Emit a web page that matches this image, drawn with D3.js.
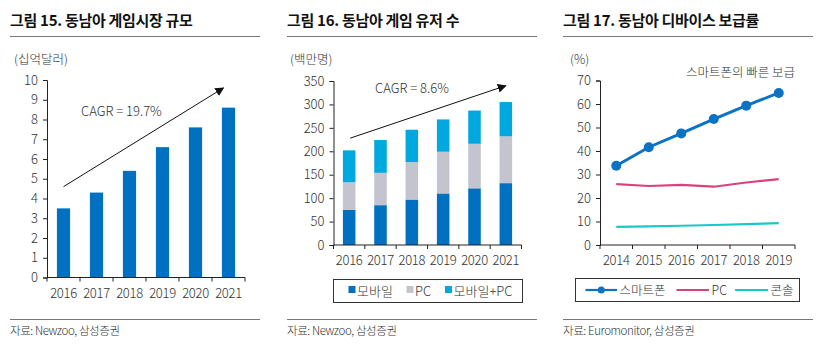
<!DOCTYPE html>
<html>
<head>
<meta charset="utf-8">
<script src="https://cdn.jsdelivr.net/npm/d3@7"></script>
<style>
  html, body { margin: 0; padding: 0; background: #fff; }
  svg text { font-family: "Noto Sans CJK KR", "Noto Sans", sans-serif; fill: #333; font-weight: 300; }
</style>
</head>
<body>
<svg id="c" width="827" height="347"></svg>
<script>
// Figure 15: SEA game market size (USD bn)
const marketYears = ["2016", "2017", "2018", "2019", "2020", "2021"];
const marketValues = [3.5, 4.3, 5.4, 6.6, 7.6, 8.6];
const marketTicks = [0, 1, 2, 3, 4, 5, 6, 7, 8, 9, 10];

// Figure 16: SEA gamers (millions), stacked
const userYears = ["2016", "2017", "2018", "2019", "2020", "2021"];
const userMobile = [75, 85, 97, 110, 121, 132];
const userPC = [59, 69, 80, 89, 95, 100];
const userBoth = [68, 70, 69, 69, 71, 73];
const userSeries = ["모바일", "PC", "모바일+PC"];
const userTicks = [0, 50, 100, 150, 200, 250, 300, 350];

// Figure 17: SEA device penetration (%)
const deviceYears = ["2014", "2015", "2016", "2017", "2018", "2019"];
const smartphone = [33.7, 41.6, 47.5, 53.6, 59.3, 64.7];
const pcRate = [25.9, 25.1, 25.6, 24.8, 26.6, 28.0];
const consoleRate = [7.7, 7.9, 8.2, 8.5, 8.9, 9.3];
const deviceSeries = ["스마트폰", "PC", "콘솔"];
const deviceTicks = [0, 10, 20, 30, 40, 50, 60, 70];

const C_BLUE = "#0070c0", C_GRAY = "#c3c4cd", C_SKY = "#00a8e0";
const C_PINK = "#d8437f", C_TEAL = "#1cc7c9", C_LINE = "#0b72c4";
const AXIS = "#222";

const svg = d3.select("#c");
const defs = svg.append("defs");
defs.append("marker").attr("id", "arr").attr("viewBox", "0 0 10 10")
  .attr("refX", 9).attr("refY", 5).attr("markerWidth", 9).attr("markerHeight", 9)
  .attr("markerUnits", "userSpaceOnUse").attr("orient", "auto")
  .append("path").attr("d", "M0,0 L10,5 L0,10 Z").attr("fill", "#111");

function frame(x0, x1, title, source) {
  svg.append("text").attr("x", x0).attr("y", 26).attr("font-size", 15)
    .style("font-weight", 700).style("fill", "#111").attr("letter-spacing", -0.3).text(title);
  svg.append("line").attr("x1", x0).attr("x2", x1).attr("y1", 36.5).attr("y2", 36.5)
    .attr("stroke", "#777").attr("stroke-width", 1);
  svg.append("line").attr("x1", x0).attr("x2", x1).attr("y1", 319.5).attr("y2", 319.5)
    .attr("stroke", "#777").attr("stroke-width", 1);
  svg.append("text").attr("x", x0).attr("y", 335).attr("font-size", 11.5)
    .attr("letter-spacing", -0.4).text(source);
}

function axes(g, x, y, ticks, h) {
  const ya = d3.axisLeft(y).tickValues(ticks).tickSize(4).tickPadding(5);
  const gy = g.append("g").attr("transform", `translate(${x.range()[0]},0)`).call(ya);
  gy.select(".domain").attr("stroke", AXIS);
  gy.selectAll(".tick line").attr("stroke", AXIS);
  gy.selectAll("text").attr("font-size", 13).attr("font-family", null).style("fill", "#333");
  const bw = x.step();
  const gx = g.append("g").attr("transform", `translate(0,${h})`);
  gx.append("line").attr("x1", x.range()[0]).attr("x2", x.range()[1])
    .attr("stroke", AXIS);
  const edges = d3.range(x.domain().length + 1).map(i => x.range()[0] + i * bw);
  gx.selectAll("line.t").data(edges).join("line").attr("class", "t")
    .attr("x1", d => d).attr("x2", d => d).attr("y1", 0).attr("y2", 4).attr("stroke", AXIS);
  gx.selectAll("text").data(x.domain()).join("text")
    .attr("x", d => x(d) + bw / 2).attr("y", 20).attr("text-anchor", "middle")
    .attr("font-size", 13).attr("letter-spacing", -0.3).text(d => d);
}

/* ---------- Figure 15 ---------- */
frame(10, 260, "그림 15. 동남아 게임시장 규모", "자료: Newzoo, 삼성증권");
{
  const g = svg.append("g");
  const x = d3.scaleBand().domain(marketYears).range([47, 245]);
  const y = d3.scaleLinear().domain([0, 10]).range([277.5, 80]);
  g.append("text").attr("x", 14).attr("y", 64).attr("font-size", 12.5).text("(십억달러)");
  const bw = x.bandwidth() * 0.4;
  g.selectAll("rect").data(marketValues).join("rect")
    .attr("x", (d, i) => x(marketYears[i]) + (x.bandwidth() - bw) / 2)
    .attr("width", bw)
    .attr("y", d => y(d)).attr("height", d => y(0) - y(d))
    .attr("fill", C_BLUE);
  axes(g, x, y, marketTicks, 277.5);
  g.append("line")
    .attr("x1", x(marketYears[0]) + x.bandwidth() / 2).attr("y1", y(4.6))
    .attr("x2", x(marketYears[5]) + x.bandwidth() / 2 - 5).attr("y2", y(9.6))
    .attr("stroke", "#111").attr("stroke-width", 1).attr("marker-end", "url(#arr)");
  g.append("text").attr("x", 81).attr("y", 116).attr("font-size", 13).text("CAGR = 19.7%");
}

/* ---------- Figure 16 ---------- */
frame(287, 537, "그림 16. 동남아 게임 유저 수", "자료: Newzoo, 삼성증권");
{
  const g = svg.append("g");
  const x = d3.scaleBand().domain(userYears).range([333.5, 521.5]);
  const y = d3.scaleLinear().domain([0, 350]).range([245, 81]);
  g.append("text").attr("x", 290).attr("y", 64).attr("font-size", 12.5).text("(백만명)");
  const rows = userYears.map((yr, i) => ({ yr, "모바일": userMobile[i], "PC": userPC[i], "모바일+PC": userBoth[i] }));
  const stacked = d3.stack().keys(userSeries)(rows);
  const colors = [C_BLUE, C_GRAY, C_SKY];
  const bw = x.bandwidth() * 0.4;
  g.selectAll("g.s").data(stacked).join("g").attr("class", "s")
    .attr("fill", (d, i) => colors[i])
    .selectAll("rect").data(d => d).join("rect")
    .attr("x", d => x(d.data.yr) + (x.bandwidth() - bw) / 2)
    .attr("width", bw)
    .attr("y", d => y(d[1])).attr("height", d => y(d[0]) - y(d[1]));
  axes(g, x, y, userTicks, 245);
  g.append("line")
    .attr("x1", x(userYears[0]) + x.bandwidth() / 2 + 1).attr("y1", y(228))
    .attr("x2", x(userYears[5]) + x.bandwidth() / 2).attr("y2", y(340))
    .attr("stroke", "#111").attr("stroke-width", 1).attr("marker-end", "url(#arr)");
  g.append("text").attr("x", 375).attr("y", 93).attr("font-size", 13).text("CAGR = 8.6%");
  // legend
  const lg = g.append("g");
  lg.append("rect").attr("x", 333.5).attr("y", 279.5).attr("width", 189).attr("height", 23)
    .attr("fill", "none").attr("stroke", "#333");
  const lx = [348.5, 406.5, 445];
  userSeries.forEach((s, i) => {
    lg.append("rect").attr("x", lx[i]).attr("y", 286).attr("width", 7).attr("height", 7).attr("fill", colors[i]);
    lg.append("text").attr("x", lx[i] + 8.5).attr("y", 295.5).attr("font-size", 13).text(s);
  });
}

/* ---------- Figure 17 ---------- */
frame(563, 813, "그림 17. 동남아 디바이스 보급률", "자료: Euromonitor, 삼성증권");
{
  const g = svg.append("g");
  const x = d3.scaleBand().domain(deviceYears).range([600, 795]);
  const y = d3.scaleLinear().domain([0, 70]).range([245, 80.5]);
  g.append("text").attr("x", 570).attr("y", 64).attr("font-size", 12.5).text("(%)");
  g.append("text").attr("x", 686).attr("y", 77).attr("font-size", 12.5).text("스마트폰의 빠른 보급");
  axes(g, x, y, deviceTicks, 245);
  const cx = d => x(d) + x.bandwidth() / 2;
  const line = vals => d3.line().x((d, i) => cx(deviceYears[i])).y(d => y(d))(vals);
  g.append("path").attr("d", line(consoleRate)).attr("fill", "none")
    .attr("stroke", C_TEAL).attr("stroke-width", 2.2);
  g.append("path").attr("d", line(pcRate)).attr("fill", "none")
    .attr("stroke", C_PINK).attr("stroke-width", 2.2);
  g.append("path").attr("d", line(smartphone)).attr("fill", "none")
    .attr("stroke", C_LINE).attr("stroke-width", 3);
  g.selectAll("circle.p").data(smartphone).join("circle").attr("class", "p")
    .attr("cx", (d, i) => cx(deviceYears[i])).attr("cy", d => y(d)).attr("r", 5)
    .attr("fill", C_LINE);
  // legend
  const lg = g.append("g");
  lg.append("rect").attr("x", 575.5).attr("y", 278.5).attr("width", 224).attr("height", 23)
    .attr("fill", "none").attr("stroke", "#333");
  const items = [
    { x0: 585.5, x1: 617, c: C_LINE, dot: true },
    { x0: 676.5, x1: 709, c: C_PINK, dot: false },
    { x0: 735, x1: 768, c: C_TEAL, dot: false }
  ];
  items.forEach((it, i) => {
    lg.append("line").attr("x1", it.x0).attr("x2", it.x1).attr("y1", 290).attr("y2", 290)
      .attr("stroke", it.c).attr("stroke-width", 2.2);
    if (it.dot) lg.append("circle").attr("cx", (it.x0 + it.x1) / 2).attr("cy", 290).attr("r", 3.5).attr("fill", it.c);
    lg.append("text").attr("x", it.x1 + 2.5).attr("y", 295).attr("font-size", 12.5).text(deviceSeries[i]);
  });
}
</script>
</body>
</html>
